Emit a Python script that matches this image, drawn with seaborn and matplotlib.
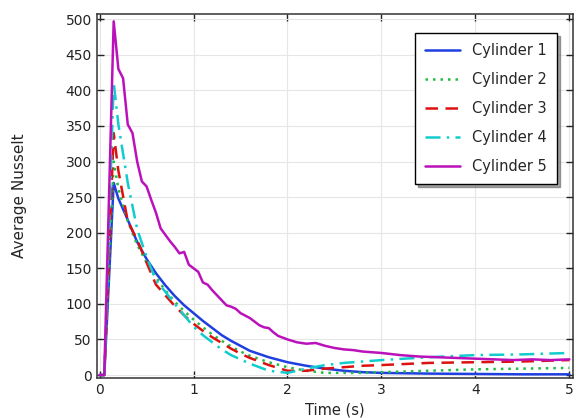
import pandas as pd
import matplotlib
matplotlib.use('Agg')
import matplotlib.pyplot as plt
import seaborn as sns

# データ (読み取り値)
time_s = [0, 0.05, 0.15, 0.2, 0.3, 0.4, 0.5, 0.6, 0.7, 0.8, 0.9, 1.0, 1.1, 1.2, 1.3,
          1.4, 1.5, 1.6, 1.8, 2.0, 2.2, 2.4, 2.6, 2.8, 3.0, 3.5, 4.0, 4.5, 5.0]
cyl1 = [0, 0, 270, 248, 218, 187, 163, 143, 126, 111, 98, 87, 76, 66, 56,
        48, 41, 34, 25, 18, 13, 9, 6, 4, 3, 2, 1.5, 1, 1]
cyl2 = [0, 0, 300, 262, 216, 183, 158, 137, 119, 103, 90, 78, 67, 57, 48,
        40, 33, 27, 18, 11, 6, 3, 3, 3, 4, 6, 8, 9, 10]
cyl3 = [0, 0, 340, 287, 216, 190, 158, 127, 112, 97, 84, 72, 62, 53, 45,
        37, 30, 24, 14, 6, 6, 9, 11, 13, 14, 17, 18, 19, 21]
cyl4 = [0, 0, 411, 352, 270, 205, 166, 133, 117, 100, 84, 68, 56, 46, 36,
        28, 22, 16, 6, 3, 9, 14, 17, 19, 21, 25, 28, 29, 31]

time_5 = [0, 0.05, 0.15, 0.2, 0.25, 0.3, 0.35, 0.4, 0.45, 0.5, 0.55, 0.6, 0.65,
          0.7, 0.75, 0.8, 0.85, 0.9, 0.95, 1.0, 1.05, 1.1, 1.15, 1.2, 1.3, 1.35,
          1.4, 1.45, 1.5, 1.6, 1.7, 1.75, 1.8, 1.85, 1.9, 2.0, 2.1, 2.2, 2.3, 2.4,
          2.5, 2.6, 2.7, 2.8, 2.9, 3.0, 3.2, 3.4, 3.6, 3.8, 4.0, 4.2, 4.4, 4.6,
          4.8, 5.0]
cyl5 = [0, 0, 497, 430, 417, 352, 340, 300, 272, 265, 246, 228, 206,
        197, 188, 180, 171, 173, 155, 150, 145, 130, 127, 119, 105, 98,
        96, 93, 87, 80, 70, 67, 66, 60, 55, 50, 46, 44, 45, 41,
        38, 36, 35, 33, 32, 31, 28, 26, 25, 24, 23, 22, 21, 22,
        21, 22]

labels = ['Cylinder 1', 'Cylinder 2', 'Cylinder 3', 'Cylinder 4', 'Cylinder 5']
colors = ['#1f3fe0', '#22bb44', '#dd1111', '#11cccc', '#bb11bb']
styles = ['-', (0, (1, 2)), (0, (5, 3)), (0, (6, 2.5, 1, 2.5)), '-']

sns.set_style('ticks')
plt.rcParams['font.family'] = ['DejaVu Sans']

fig = plt.figure(figsize=(5.76, 4.18), dpi=100)
ax = fig.add_axes([0.168, 0.096, 0.827, 0.870])

series = [(time_s, cyl1), (time_s, cyl2), (time_s, cyl3), (time_s, cyl4), (time_5, cyl5)]
for (t, v), lab, c, ls in zip(series, labels, colors, styles):
    df = pd.DataFrame({'t': t, 'v': v})
    sns.lineplot(data=df, x='t', y='v', ax=ax, color=c, linestyle=ls,
                 linewidth=1.8, label=lab)

ax.set_xlim(-0.03, 5.04)
ax.set_ylim(-4, 507)
ax.set_xticks([0, 1, 2, 3, 4, 5])
ax.set_yticks(range(0, 501, 50))
ax.grid(True, color='#e6e6e6', linewidth=0.8)
ax.tick_params(direction='in', top=True, right=True, length=5, width=1,
               labelsize=10, colors='#222222')
for s in ax.spines.values():
    s.set_color('#333333')
    s.set_linewidth(1.1)

ax.set_xlabel('Time (s)', fontsize=10.5, labelpad=4)
ax.set_ylabel('Average Nusselt', fontsize=11, labelpad=28)

leg = ax.legend(loc='upper right', bbox_to_anchor=(0.966, 0.948), fontsize=10.5,
                frameon=True, fancybox=False, shadow=True, handlelength=2.4,
                labelspacing=0.95, borderpad=0.7, borderaxespad=0,
                edgecolor='black')
leg.get_frame().set_linewidth(1.0)

fig.savefig('out.png', dpi=100)
